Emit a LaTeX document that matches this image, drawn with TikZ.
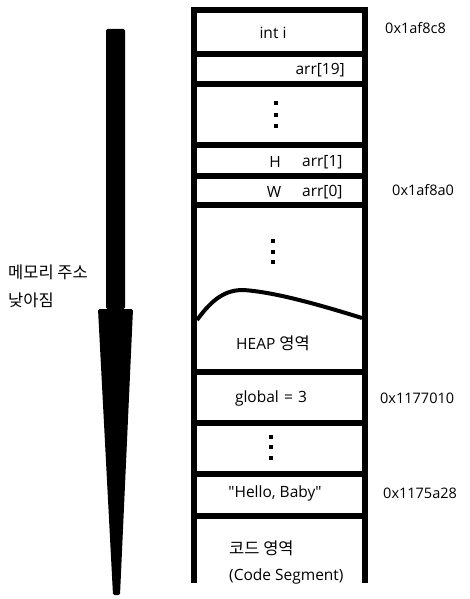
\documentclass[tikz,border=0pt]{standalone}
\usepackage{fontspec}
\setmainfont{Open Sans}
\newfontfamily\kr{Noto Sans CJK KR}
\usetikzlibrary{positioning}

\begin{document}
\begin{tikzpicture}[x=1pt, y=-1pt,
cell/.style={inner sep=0pt, font=\fontsize{15.5}{17}\selectfont},
addr/.style={inner sep=0pt, anchor=west, font=\fontsize{14.5}{16}\selectfont},
note/.style={inner sep=0pt, anchor=west, font=\kr\fontsize{16.5}{18}\selectfont},
wall/.style={line width=6pt}
]
\useasboundingbox (0,0) rectangle (469,599);

% arrow on the left
\fill[rounded corners=2pt] (106,29) -- (125,29) -- (125,309) -- (106,309) -- cycle;
\fill[rounded corners=1.5pt] (98,309) -- (133,309) -- (120,595) -- (113,595) -- cycle;
\node[note]   (lower)    at (8,272)                {메모리 주소};
\node[note]   (lower2)   [below=13pt of lower.south west, anchor=north west] {낮아짐};

% memory frame
\draw[wall, line join=miter] (193.5,583) -- (193.5,10) -- (364.5,10) -- (364.5,583);
\foreach \y in {54,84.5,145,176,205,372,422.5,474,515.5}
  \draw[wall] (193.5,\y) -- (364.5,\y);

% stack
\node[cell]               (inti)     at (273,33)   {int i};
\node[cell, anchor=east]  (arr19)    at (345,70)   {arr[19]};
\foreach \y in {103,115,126} \fill (274,\y-2) rectangle ++(4,4);
\node[cell]               (hchar)    at (275,162)  {H};
\node[cell, anchor=west]  (arr1)     at (302,162)  {arr[1]};
\node[cell]               (wchar)    at (274,192)  {W};
\node[cell, anchor=west]  (arr0)     at (302,192)  {arr[0]};

% heap
\foreach \y in {241,252,262} \fill (271,\y-2) rectangle ++(4,4);
\draw[line width=4pt] (197,320) .. controls (213,298) and (226,290) .. (243,290)
  .. controls (275,292) and (320,305) .. (362,318);
\node[cell]               (heap)     at (273,343)  {HEAP {\kr\fontsize{16.5}{18}\selectfont 영역}};

% data and code
\node[cell]               (global)   at (271,398)  {global\,\,=\,\,3};
\foreach \y in {437,447,458} \fill (269,\y-2) rectangle ++(4,4);
\node[cell]               (hello)    at (275,493)  {\textquotedbl Hello, Baby\textquotedbl};
\node[note]               (code)     at (229,548)  {코드 영역};
\node[cell, anchor=west]  (codeseg)  at (229,576)  {(Code Segment)};

% addresses
\node[addr]   (a1)   at (385,28)   {0x1af8c8};
\node[addr]   (a2)   at (392,190)  {0x1af8a0};
\node[addr]   (a3)   at (380,398)  {0x1177010};
\node[addr]   (a4)   at (383,493)  {0x1175a28};
\end{tikzpicture}
\end{document}
